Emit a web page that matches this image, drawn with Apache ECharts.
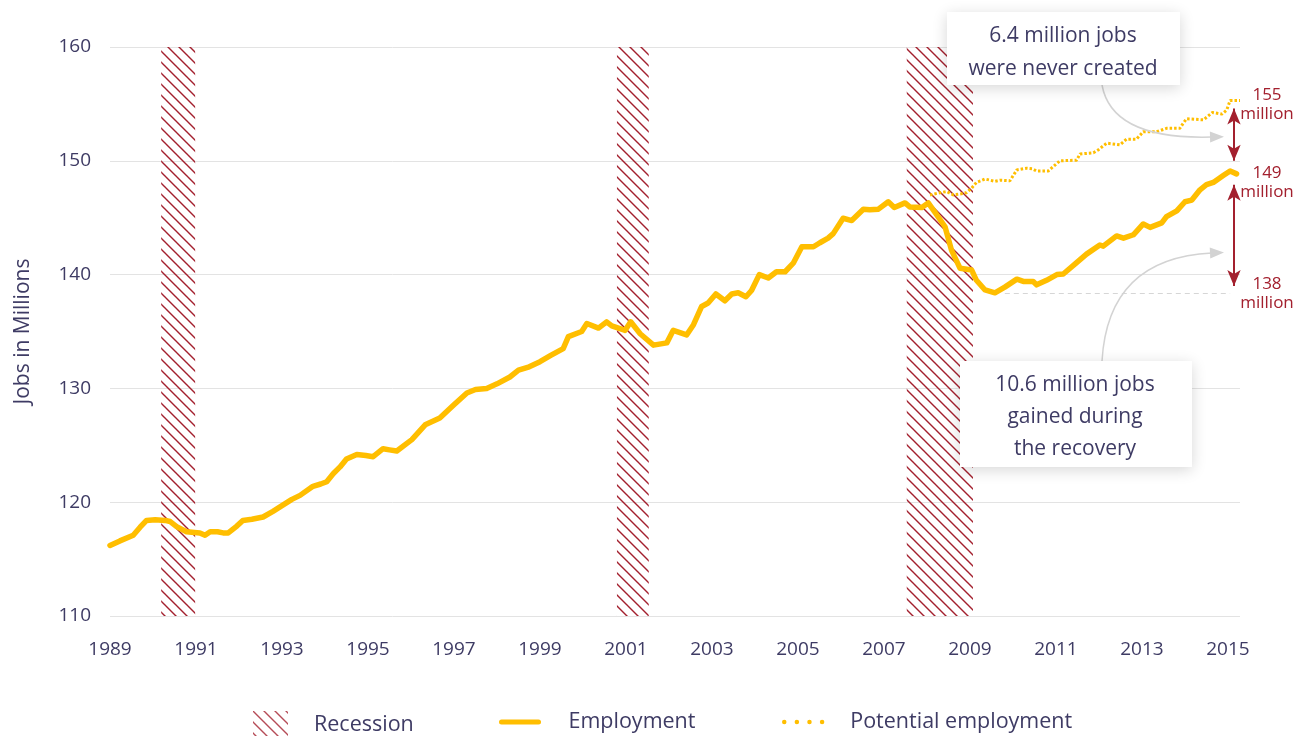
<!DOCTYPE html>
<html><head><meta charset="utf-8">
<script src="https://cdn.jsdelivr.net/npm/echarts@6/dist/echarts.min.js"></script>
<style>html,body{margin:0;padding:0;background:#fff}#c{width:1308px;height:736px}</style>
</head><body><div id="c"></div>
<script>
// ---- data ----
const employmentYear = [1989.0,1989.23,1989.54,1989.7,1989.85,1990.05,1990.28,1990.4,1990.55,1990.78,1991.09,1991.21,1991.33,1991.5,1991.63,1991.75,1991.95,1992.09,1992.3,1992.56,1992.79,1993.0,1993.23,1993.42,1993.72,1993.9,1994.04,1994.19,1994.35,1994.5,1994.74,1994.95,1995.12,1995.35,1995.5,1995.67,1996.02,1996.33,1996.67,1996.98,1997.3,1997.5,1997.76,1998.0,1998.3,1998.5,1998.75,1999.0,1999.25,1999.54,1999.66,1999.97,2000.09,2000.36,2000.55,2000.67,2000.98,2001.11,2001.33,2001.64,2001.95,2002.1,2002.41,2002.57,2002.76,2002.91,2003.09,2003.3,2003.46,2003.61,2003.79,2003.92,2004.1,2004.31,2004.5,2004.7,2004.89,2005.09,2005.36,2005.51,2005.7,2005.82,2006.05,2006.25,2006.52,2006.67,2006.87,2007.1,2007.24,2007.49,2007.6,2007.88,2008.03,2008.22,2008.42,2008.57,2008.77,2009.04,2009.15,2009.35,2009.58,2009.81,2010.09,2010.24,2010.47,2010.55,2010.78,2011.02,2011.17,2011.48,2011.71,2012.02,2012.1,2012.41,2012.57,2012.8,2013.03,2013.19,2013.46,2013.57,2013.81,2014.0,2014.16,2014.35,2014.5,2014.66,2014.89,2015.05,2015.2];
const employmentJobs = [116.2,116.6,117.1,117.8,118.4,118.45,118.4,118.3,117.85,117.4,117.3,117.1,117.4,117.4,117.3,117.3,117.9,118.4,118.5,118.7,119.2,119.7,120.25,120.6,121.4,121.6,121.8,122.5,123.1,123.8,124.2,124.1,124.0,124.7,124.6,124.5,125.5,126.8,127.4,128.5,129.6,129.9,130.0,130.4,131.0,131.6,131.9,132.35,132.9,133.5,134.55,135.0,135.7,135.3,135.85,135.5,135.1,135.85,134.8,133.8,134.0,135.1,134.7,135.6,137.2,137.5,138.3,137.7,138.3,138.4,138.05,138.6,140.0,139.7,140.25,140.25,141.0,142.45,142.45,142.8,143.2,143.6,144.95,144.75,145.75,145.7,145.75,146.4,145.9,146.3,145.95,145.9,146.3,145.3,144.2,142.15,140.55,140.4,139.5,138.65,138.4,138.9,139.6,139.4,139.4,139.1,139.5,140.0,140.05,141.05,141.8,142.6,142.5,143.4,143.2,143.5,144.45,144.15,144.55,145.1,145.6,146.4,146.55,147.45,147.9,148.1,148.7,149.1,148.85];
const potentialYear = [2008.07,2008.3,2008.46,2008.61,2008.8,2008.92,2009.04,2009.15,2009.35,2009.58,2009.7,2009.93,2010.09,2010.32,2010.45,2010.55,2010.82,2010.94,2011.09,2011.48,2011.56,2011.87,2011.98,2012.18,2012.49,2012.64,2012.87,2013.03,2013.34,2013.57,2013.88,2013.96,2014.04,2014.43,2014.64,2014.86,2014.97,2015.05,2015.28];
const potentialJobs = [147.0,147.2,147.3,147.0,147.1,147.2,147.6,148.1,148.4,148.2,148.3,148.25,149.2,149.35,149.3,149.1,149.1,149.5,150.0,150.05,150.6,150.7,150.95,151.55,151.4,151.9,151.9,152.55,152.55,152.85,152.85,153.3,153.7,153.6,154.25,154.1,154.45,155.3,155.3];
const recessionStart = [1990.19, 2000.79, 2007.53];
const recessionEnd   = [1990.98, 2001.53, 2009.07];
const gapLabelText  = ['155', '149', '138'];
const gapLabelJobs  = [154.9, 148.1, 138.3];
const gapArrowYear  = 2015.14;
const gapArrowTop   = [154.6, 150.0];
const gapArrowLow   = [147.9, 139.0];
const troughJobs    = 138.4;
const troughYear    = 2009.81;
const boxText1 = '6.4 million jobs\nwere never created';
const boxText2 = '10.6 million jobs\ngained during\nthe recovery';

// ---- styling ----
const NAVY = '#3e3b64', YEL = '#FFBE00', RED = '#a3202e', GRID = '#e3e3e3';
const FONT = '"Open Sans", Lato, sans-serif';

function hatch() {
  const s = 11, c = document.createElement('canvas');
  c.width = s; c.height = s;
  const g = c.getContext('2d');
  g.strokeStyle = RED; g.lineWidth = 1.4;
  g.beginPath();
  for (let k = -1; k <= 1; k++) { g.moveTo(k * s - 1, -1); g.lineTo(k * s + s + 1, s + 1); }
  g.stroke();
  return c;
}
const hatchFill = { image: hatch(), repeat: 'repeat' };

const zip = (a, b) => a.map((v, i) => [v, b[i]]);

const chart = echarts.init(document.getElementById('c'), null, { renderer: 'canvas' });
const legendCommon = { top: 711, orient: 'horizontal', padding: 0, selectedMode: false,
  itemHeight: 27, textStyle: { color: NAVY, fontSize: 21.5, fontFamily: FONT } };
const noSymbol = { opacity: 0, borderWidth: 0 };

const option = {
  animation: false,
  backgroundColor: '#fff',
  grid: { left: 110, right: 68, top: 47, bottom: 120 },
  xAxis: {
    type: 'value', min: 1989, max: 2015.28, interval: 2,
    axisLine: { show: false }, axisTick: { show: false }, splitLine: { show: false },
    axisLabel: { margin: 24, color: NAVY, fontSize: 19, fontFamily: FONT,
      formatter: v => (Math.abs(v - Math.round(v)) < 1e-6 ? String(Math.round(v)) : '') }
  },
  yAxis: {
    type: 'value', min: 110, max: 160, interval: 10,
    name: 'Jobs in Millions', nameLocation: 'middle', nameGap: 76,
    nameTextStyle: { color: NAVY, fontSize: 21, fontFamily: FONT },
    axisLine: { show: false }, axisTick: { show: false },
    splitLine: { lineStyle: { color: GRID, width: 1 } },
    axisLabel: { margin: 19, color: NAVY, fontSize: 19, fontFamily: FONT }
  },
  legend: [
    Object.assign({}, legendCommon, { left: 253, itemWidth: 35,
      data: [{ name: 'Recession', icon: 'rect' }],
      textStyle: Object.assign({}, legendCommon.textStyle, { padding: [0, 0, 0, 21] }) }),
    Object.assign({}, legendCommon, { left: 499, itemWidth: 37,
      data: [{ name: 'Employment', itemStyle: noSymbol, lineStyle: { cap: 'round', width: 5 } }],
      textStyle: Object.assign({}, legendCommon.textStyle, { padding: [0, 0, 0, 25] }) }),
    Object.assign({}, legendCommon, { left: 782, itemWidth: 38,
      data: [{ name: 'Potential employment', itemStyle: noSymbol, lineStyle: { type: [0.01, 12.6], cap: 'round', width: 4.5 } }],
      textStyle: Object.assign({}, legendCommon.textStyle, { padding: [0, 0, 0, 23] }) })
  ],
  series: [
    {
      name: 'Recession', type: 'scatter', data: [], z: 1,
      itemStyle: { color: hatchFill },
      markArea: { silent: true, itemStyle: { color: hatchFill, opacity: 1 },
        data: recessionStart.map((s, i) => [{ xAxis: s }, { xAxis: recessionEnd[i] }]) }
    },
    {
      name: 'Potential employment', type: 'line', z: 3, symbol: 'none',
      data: zip(potentialYear, potentialJobs),
      itemStyle: { color: YEL },
      lineStyle: { color: YEL, width: 3, type: [2.5, 2] }
    },
    {
      name: 'Employment', type: 'line', z: 4, symbol: 'none',
      data: zip(employmentYear, employmentJobs),
      itemStyle: { color: YEL },
      lineStyle: { color: YEL, width: 5.5, join: 'round', cap: 'round' },
      markLine: {
        silent: true, symbol: ['arrow', 'arrow'], symbolSize: [10, 16], label: { show: false },
        lineStyle: { color: RED, width: 2, type: 'solid' },
        data: [
          [{ coord: [gapArrowYear, gapArrowTop[0]] }, { coord: [gapArrowYear, gapArrowTop[1]] }],
          [{ coord: [gapArrowYear, gapArrowLow[0]] }, { coord: [gapArrowYear, gapArrowLow[1]] }],
          [{ coord: [troughYear, troughJobs], symbol: 'none', lineStyle: { color: '#d6d6d6', width: 1, type: [5, 4] } },
           { coord: [2015.05, troughJobs], symbol: 'none' }]
        ]
      }
    }
  ]
};
chart.setOption(option);

// annotation layer
const px = (x, y) => chart.convertToPixel({ gridIndex: 0 }, [x, y]);
const graphics = [];
gapLabelText.forEach((t, i) => {
  const p = px(2015.28, gapLabelJobs[i]);
  graphics.push({ type: 'text', z: 20, x: p[0] + 27, y: p[1],
    style: { text: t + '\nmillion', fill: RED, font: '17px ' + FONT, align: 'center', verticalAlign: 'middle', lineHeight: 19 } });
});
function box(x, y, w, h, text, cx, cy, lh) {
  graphics.push({ type: 'rect', z: 30, shape: { x, y, width: w, height: h },
    style: { fill: '#fff', shadowBlur: 14, shadowColor: 'rgba(0,0,0,0.16)', shadowOffsetY: 3 } });
  graphics.push({ type: 'text', z: 31, x: cx, y: cy,
    style: { text, fill: NAVY, font: '21px ' + FONT, align: 'center', verticalAlign: 'middle', lineHeight: lh } });
}
function curveArrow(x1, y1, cx, cy, x2, y2) {
  graphics.push({ type: 'bezierCurve', z: 25, shape: { x1, y1, x2, y2, cpx1: cx, cpy1: cy },
    style: { stroke: '#d3d3d3', lineWidth: 1.5, fill: null } });
  const a = Math.atan2(y2 - cy, x2 - cx);
  const L = 14, W = 5.5;
  const tx = x2 + Math.cos(a) * 12, ty = y2 + Math.sin(a) * 12;
  const bx = tx - Math.cos(a) * L, by = ty - Math.sin(a) * L;
  graphics.push({ type: 'polygon', z: 25, shape: { points: [[tx, ty],
    [bx - Math.sin(a) * W, by + Math.cos(a) * W], [bx + Math.sin(a) * W, by - Math.cos(a) * W]] },
    style: { fill: '#d3d3d3' } });
}
curveArrow(1102, 85, 1112, 140, 1212, 137);
curveArrow(1102, 361, 1108, 258, 1212, 253);
box(947, 12, 233, 73, boxText1, 1063, 52.5, 33);
box(960, 361, 232, 106, boxText2, 1075, 417, 32);
chart.setOption({ graphic: graphics });
</script></body></html>
